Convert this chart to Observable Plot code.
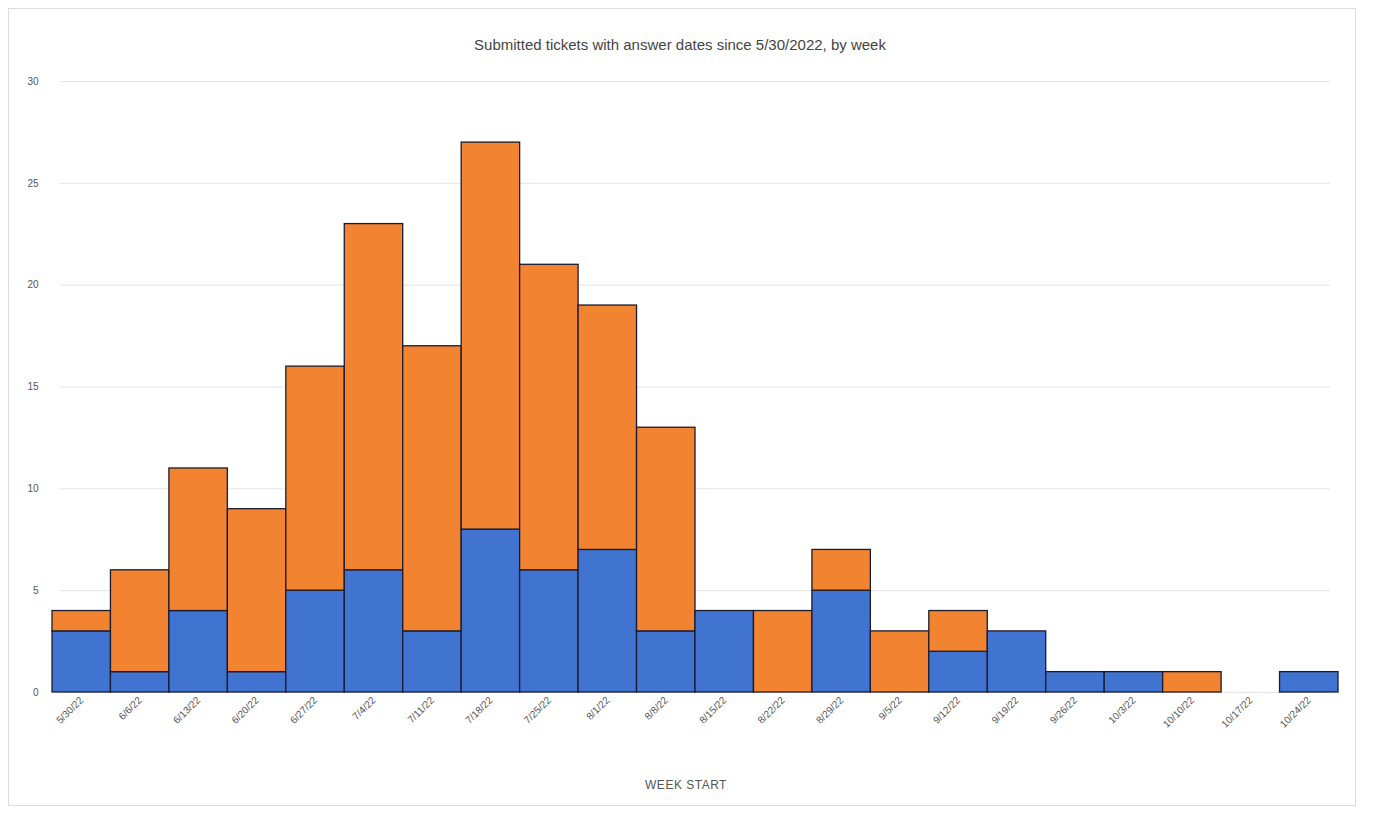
<!DOCTYPE html>
<html>
<head>
<meta charset="utf-8">
<script src="https://cdn.jsdelivr.net/npm/d3@7"></script>
<script src="https://cdn.jsdelivr.net/npm/@observablehq/plot@0.6"></script>
<style>
  html, body { margin: 0; padding: 0; background: #fff; }
  #wrap { position: relative; width: 1380px; height: 814px; overflow: hidden; font-family: "Liberation Sans", Arial, sans-serif; }
  #title { position: absolute; top: 36px; left: 0; width: 1360px; text-align: center; font-size: 15px; color: #444; }
  #xtitle { position: absolute; top: 778px; left: 0; width: 1372px; text-align: center; font-size: 12px; color: #555; letter-spacing: 0.5px; }
  #frame { position: absolute; left: 8px; top: 8px; width: 1348px; height: 798px; border: 1px solid #dcdcdc; box-sizing: border-box; pointer-events: none; }
  #chart { position: absolute; left: 0; top: 0; }
</style>
</head>
<body>
<div id="wrap">
  <div id="chart"></div>
  <div id="frame"></div>
  <div id="title">Submitted tickets with answer dates since 5/30/2022, by week</div>
  <div id="xtitle">WEEK START</div>
</div>
<script>
const weeks = ["5/30/22","6/6/22","6/13/22","6/20/22","6/27/22","7/4/22","7/11/22","7/18/22","7/25/22","8/1/22","8/8/22","8/15/22","8/22/22","8/29/22","9/5/22","9/12/22","9/19/22","9/26/22","10/3/22","10/10/22","10/17/22","10/24/22"];
const blueValues   = [3, 1, 4, 1, 5, 6, 3, 8, 6, 7, 3, 4, 0, 5, 0, 2, 3, 1, 1, 0, 0, 1];
const orangeValues = [1, 5, 7, 8, 11, 17, 14, 19, 15, 12, 10, 0, 4, 2, 3, 2, 0, 0, 0, 1, 0, 0];
const seriesNames = ["Answered", "Open"];
const seriesColors = ["#4173D1", "#F28330"];
const yTicks = [0, 5, 10, 15, 20, 25, 30];

const rows = [];
weeks.forEach((w, i) => {
  rows.push({week: w, series: seriesNames[0], value: blueValues[i]});
  rows.push({week: w, series: seriesNames[1], value: orangeValues[i]});
});

const chart = Plot.plot({
  width: 1380,
  height: 814,
  marginLeft: 52,
  marginRight: 42,
  marginTop: 81,
  marginBottom: 122,
  style: {fontFamily: "Liberation Sans, Arial, sans-serif", fontSize: "10px", color: "#555", background: "transparent"},
  x: {domain: weeks, padding: 0, round: false, label: null, tickSize: 0, tickRotate: -45, tickPadding: 6},
  y: {domain: [0, 30], ticks: yTicks, label: null, tickSize: 0, tickPadding: 14},
  color: {domain: seriesNames, range: seriesColors},
  marks: [
    Plot.ruleY(yTicks, {stroke: "#e4e4e4", strokeWidth: 1, insetLeft: 8, insetRight: 8}),
    Plot.barY(rows.filter(d => d.value > 0), {
      x: "week", y: "value", fill: "series", order: seriesNames,
      stroke: "#1b1b2e", strokeWidth: 1.3, insetLeft: 0, insetRight: 0
    }),
    Plot.axisY({ticks: yTicks, tickSize: 0, tickPadding: 14, fill: "#555"}),
    Plot.axisX({tickSize: 0, tickRotate: -45, tickPadding: 6, fill: "#555"})
  ]
});
document.getElementById("chart").appendChild(chart);
</script>
</body>
</html>
